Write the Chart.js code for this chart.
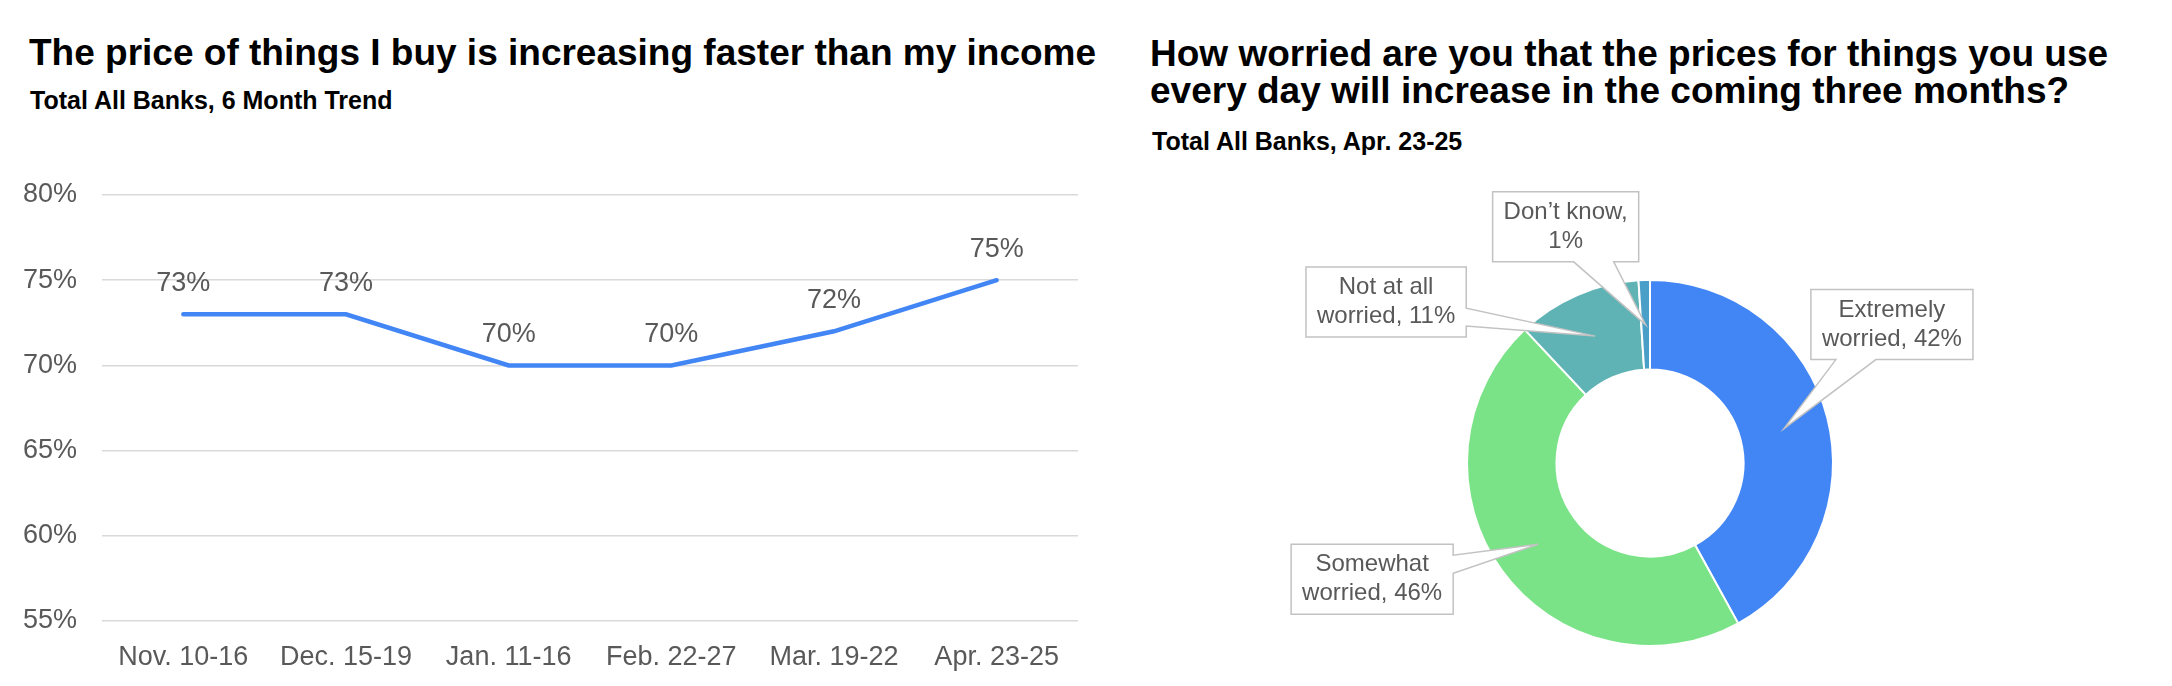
<!DOCTYPE html>
<html lang="en">
<head>
    <meta charset="UTF-8">
    <title>Price Worries</title>
    <script src="https://cdn.jsdelivr.net/npm/chart.js"></script>
    <style>
        body { margin: 0; background: #fff; font-family: 'Liberation Sans', Arial, sans-serif; }
        .page { position: relative; width: 2172px; height: 686px; overflow: hidden; }
        .title { position: absolute; font-weight: bold; font-size: 37px; line-height: 37px; color: #000; white-space: nowrap; }
        .sub { position: absolute; font-weight: bold; font-size: 25px; line-height: 25px; color: #000; white-space: nowrap; }
        .chart-box { position: absolute; }
    </style>
</head>
<body>
<div class="page">
    <div class="title" style="left:29px; top:34px;">The price of things I buy is increasing faster than my income</div>
    <div class="sub" style="left:30px; top:88px;">Total All Banks, 6 Month Trend</div>

    <div class="title" style="left:1150px; top:35px;">How worried are you that the prices for things you use<br>every day will increase in the coming three months?</div>
    <div class="sub" style="left:1152px; top:129px;">Total All Banks, Apr. 23-25</div>

    <div class="chart-box" style="left:0; top:150px; width:1110px; height:536px;">
        <canvas id="trendChart"></canvas>
    </div>
    <div class="chart-box" style="left:1250px; top:170px; width:922px; height:516px;">
        <canvas id="worryChart"></canvas>
    </div>
</div>

<script>
    // left chart: 6 month trend
    const trendLabels = ['Nov. 10-16', 'Dec. 15-19', 'Jan. 11-16', 'Feb. 22-27', 'Mar. 19-22', 'Apr. 23-25'];
    const trendValues = [73, 73, 70, 70, 72, 75];
    const yTicks = [55, 60, 65, 70, 75, 80];

    // right chart: worry split
    const worryLabels = ['Extremely worried', 'Somewhat worried', 'Not at all worried', 'Don\u2019t know'];
    const worryValues = [42, 46, 11, 1];

    const worryColors = ['#4285f4', '#7be387', '#5fb3b5', '#4a9fc8'];
    const FONT = "'Liberation Sans', Arial, sans-serif";
    const GREY = '#595959';

    // callout box offsets from the slice centre point
    const calloutOffsets = [[108, -104], [-166, 35], [-209, -34], [-80, -98]];

    const pointLabels = {
        id: 'pointLabels',
        afterDatasetsDraw(chart) {
            const ctx = chart.ctx;
            const meta = chart.getDatasetMeta(0);
            ctx.save();
            ctx.font = '27px ' + FONT;
            ctx.fillStyle = GREY;
            ctx.textAlign = 'center';
            ctx.textBaseline = 'middle';
            meta.data.forEach((pt, i) => {
                ctx.fillText(trendValues[i] + '%', pt.x, pt.y - 31);
            });
            ctx.restore();
        }
    };

    function wrapWords(ctx, text, maxW) {
        const words = text.split(' ');
        const lines = [];
        let line = '';
        words.forEach(w => {
            const test = line ? line + ' ' + w : w;
            if (line && ctx.measureText(test).width > maxW) {
                lines.push(line);
                line = w;
            } else {
                line = test;
            }
        });
        lines.push(line);
        return lines;
    }

    const callouts = {
        id: 'callouts',
        afterDraw(chart) {
            const ctx = chart.ctx;
            const meta = chart.getDatasetMeta(0);
            const clamp = (v, a, z) => Math.min(Math.max(v, a), z);
            ctx.save();
            ctx.font = '24px ' + FONT;
            meta.data.forEach((arc, i) => {
                const tip = arc.tooltipPosition();
                const lines = wrapWords(ctx, worryLabels[i] + ', ' + worryValues[i] + '%', 155);
                const lineH = 29;
                const w = Math.max(...lines.map(l => ctx.measureText(l).width)) + 22;
                const h = lines.length * lineH + 12;
                const cx = tip.x + calloutOffsets[i][0];
                const cy = tip.y + calloutOffsets[i][1];
                const l = cx - w / 2, r = cx + w / 2, t = cy - h / 2, b = cy + h / 2;

                const outX = Math.max(l - tip.x, tip.x - r, 0);
                const outY = Math.max(t - tip.y, tip.y - b, 0);
                const side = outY >= outX ? (tip.y > cy ? 'bottom' : 'top') : (tip.x > cx ? 'right' : 'left');

                const path = [[l, t]];
                if (side === 'top') {
                    const m = clamp(tip.x, l + 45, r - 45);
                    path.push([m - 20, t], [tip.x, tip.y], [m + 20, t]);
                }
                path.push([r, t]);
                if (side === 'right') {
                    const m = clamp(tip.y, t + 20, b - 20);
                    path.push([r, m - 9], [tip.x, tip.y], [r, m + 9]);
                }
                path.push([r, b]);
                if (side === 'bottom') {
                    const m = clamp(tip.x, l + 45, r - 45);
                    path.push([m + 20, b], [tip.x, tip.y], [m - 20, b]);
                }
                path.push([l, b]);
                if (side === 'left') {
                    const m = clamp(tip.y, t + 20, b - 20);
                    path.push([l, m + 9], [tip.x, tip.y], [l, m - 9]);
                }

                ctx.beginPath();
                path.forEach((p, k) => k ? ctx.lineTo(p[0], p[1]) : ctx.moveTo(p[0], p[1]));
                ctx.closePath();
                ctx.fillStyle = '#ffffff';
                ctx.fill();
                ctx.strokeStyle = '#c2c2c2';
                ctx.lineWidth = 1.5;
                ctx.stroke();

                ctx.fillStyle = GREY;
                ctx.textAlign = 'center';
                ctx.textBaseline = 'middle';
                lines.forEach((ln, k) => {
                    ctx.fillText(ln, cx, t + 6 + lineH * (k + 0.5));
                });
            });
            ctx.restore();
        }
    };

    new Chart(document.getElementById('trendChart'), {
        type: 'line',
        data: {
            labels: trendLabels,
            datasets: [{
                data: trendValues,
                borderColor: '#4285f4',
                borderWidth: 4.5,
                borderCapStyle: 'round',
                pointRadius: 0,
                fill: false,
                tension: 0
            }]
        },
        options: {
            responsive: true,
            maintainAspectRatio: false,
            animation: false,
            layout: { padding: { top: 45, right: 32, left: 0, bottom: 0 } },
            plugins: { legend: { display: false }, tooltip: { enabled: false } },
            scales: {
                x: {
                    offset: true,
                    grid: { display: false },
                    border: { display: false },
                    ticks: { font: { family: FONT, size: 27 }, color: GREY, padding: 12, maxRotation: 0, autoSkip: false },
                    afterFit(s) { s.height = 65; }
                },
                y: {
                    min: yTicks[0],
                    max: yTicks[yTicks.length - 1],
                    ticks: {
                        stepSize: yTicks[1] - yTicks[0],
                        callback: v => v + '%',
                        font: { family: FONT, size: 27 },
                        color: GREY,
                        padding: 25
                    },
                    grid: { color: '#d9d9d9', lineWidth: 1.5, drawTicks: false },
                    border: { display: false },
                    afterFit(s) { s.width = 102; }
                }
            }
        },
        plugins: [pointLabels]
    });

    new Chart(document.getElementById('worryChart'), {
        type: 'doughnut',
        data: {
            labels: worryLabels,
            datasets: [{
                data: worryValues,
                backgroundColor: worryColors,
                borderColor: '#ffffff',
                borderWidth: 2
            }]
        },
        options: {
            responsive: true,
            maintainAspectRatio: false,
            animation: false,
            radius: 183,
            cutout: 93,
            layout: { padding: { left: 217, right: 339, top: 110, bottom: 40 } },
            plugins: { legend: { display: false }, tooltip: { enabled: false } }
        },
        plugins: [callouts]
    });
</script>
</body>
</html>
